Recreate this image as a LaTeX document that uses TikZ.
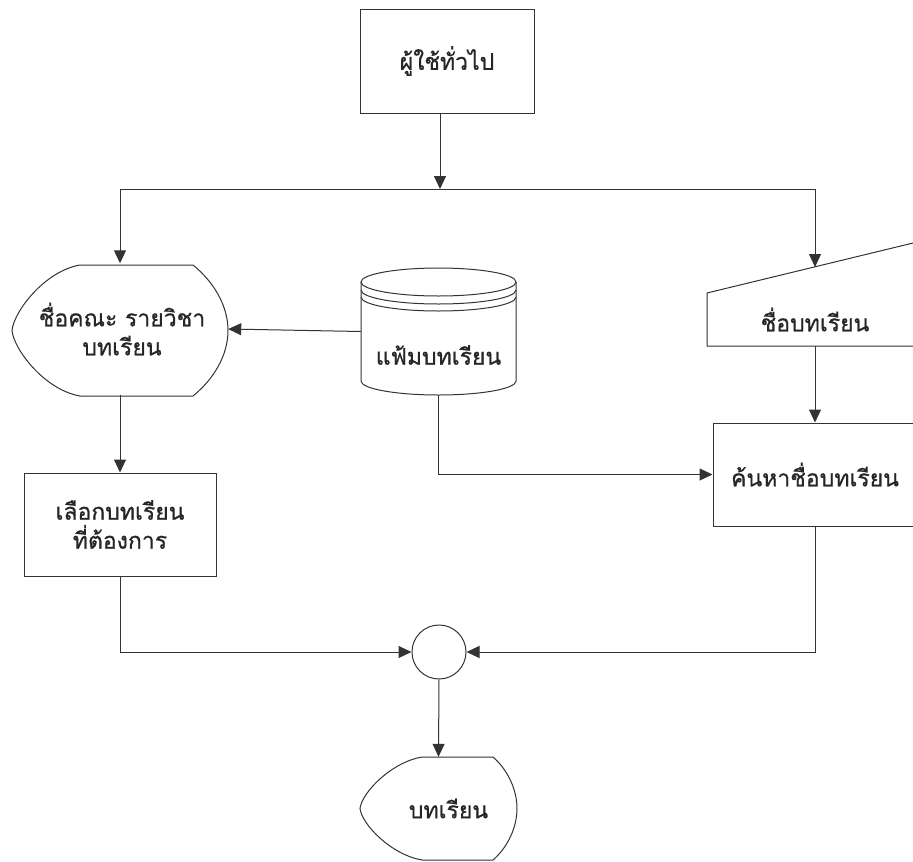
\documentclass[tikz,border=0pt]{standalone}
\usepackage{fontspec}
\newfontfamily\thaifont[Script=Thai,FakeBold=0.8]{Loma}
\usetikzlibrary{arrows.meta}
\begin{document}
\begin{tikzpicture}[x=1pt,y=-1pt,
  line/.style={draw=black!80,line width=1pt},
  arr/.style={line,-{Triangle[length=13pt,width=12pt]}},
  txt/.style={font=\thaifont\fontsize{23}{29}\selectfont,align=center,inner sep=0pt,text=black!85},
  frame/.style={txt,rectangle,line},
  area/.style={txt,rectangle}]
\useasboundingbox (0,0) rectangle (913,862);
\clip (0,0) rectangle (913,862);

% nodes
\node[frame,minimum width=174pt,minimum height=104pt] (user) at (447,61) {ผู้ใช้ทั่วไป};
\node[area,minimum width=216pt,minimum height=131pt] (ldisp) at (120,329) {\hspace*{4pt}ชื่อคณะ รายวิชา\\\hspace*{4pt}บทเรียน};
\node[area,minimum width=155pt,minimum height=127pt] (db) at (438.5,331.5) {};
\node[txt] (dbtext) at (438.5,355) {แฟ้มบทเรียน};
\node[area,minimum width=216pt,minimum height=53pt] (minput) at (815,319.5) {ชื่อบทเรียน};
\node[frame,minimum width=204pt,minimum height=103pt] (rproc) at (815,474.5) {ค้นหาชื่อบทเรียน};
\node[frame,minimum width=192pt,minimum height=103pt] (lproc) at (120,524.5) {เลือกบทเรียน\\ที่ต้องการ};
\node[circle,line,minimum size=54pt,inner sep=0pt] (join) at (439,652) {};
\node[area,minimum width=157pt,minimum height=103pt] (bdisp) at (438.5,808.5) {\hspace*{20pt}บทเรียน};

\coordinate (split) at (440,189);
\coordinate (minputTop) at (815,267);

% outlines
\draw[line] (80,265) -- (193,265) .. controls (214,282) and (228,306) .. (228,330.5)
  .. controls (228,355) and (214,379) .. (193,396) -- (80,396)
  .. controls (45,390) and (14,350) .. (12,330.5)
  .. controls (14,311) and (45,271) .. (80,265) -- cycle;
\draw[line] (438.5,282) ellipse [x radius=77.5, y radius=14];
\draw[line] (361,290) arc[start angle=180, end angle=0, x radius=77.5, y radius=14];
\draw[line] (361,297) arc[start angle=180, end angle=0, x radius=77.5, y radius=14];
\draw[line] (361,282) -- (361,381) arc[start angle=180, end angle=0, x radius=77.5, y radius=14] -- (516,282);
\draw[line] (930,238.9) -- (707,293) -- (707,346) -- (930,346);
\draw[line] (422,757) -- (493,757) .. controls (508,770) and (517,790) .. (517,808.5)
  .. controls (517,827) and (508,847) .. (493,860) -- (422,860)
  .. controls (392,855) and (362,825) .. (360,808.5)
  .. controls (362,792) and (392,762) .. (422,757) -- cycle;

% connectors
\draw[arr] (user.south -| split) -- (split);
\draw[line] (ldisp.north |- split) -- (minput.north |- split);
\draw[arr] (ldisp.north |- split) -- (ldisp.north);
\draw[arr] (minputTop |- split) -- (minputTop);
\draw[arr] (db.west) -- (ldisp.east);
\draw[arr] (ldisp.south) -- (lproc.north);
\draw[arr] (minput.south) -- (rproc.north);
\draw[arr] (db.south) |- (rproc.west);
\draw[arr] (lproc.south) |- (join.west);
\draw[arr] (rproc.south) |- (join.east);
\draw[arr] (join.south) -- (bdisp.north);
\end{tikzpicture}
\end{document}
